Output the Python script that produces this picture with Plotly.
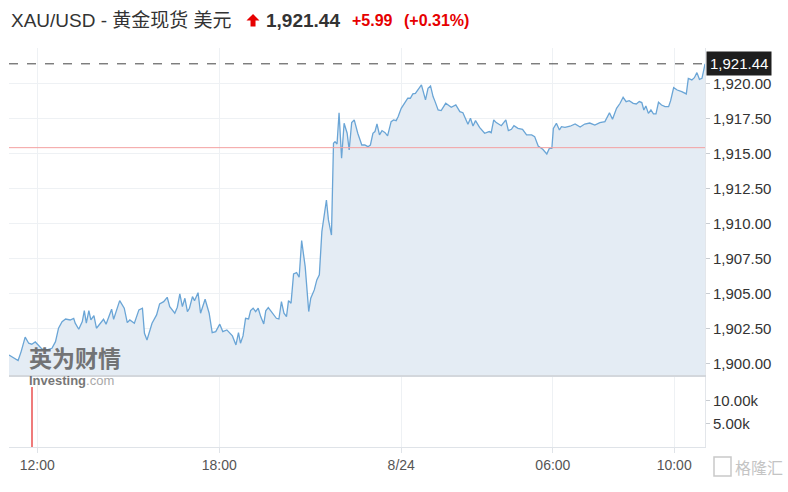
import plotly.graph_objects as go

# ---------------- data ----------------
day1_times = ["11:04","11:13","11:22","11:28","11:36","11:43","11:49","11:56","12:03","12:09",
    "12:19","12:29","12:36","12:42","12:49","12:56","13:05","13:12","13:15","13:22",
    "13:29","13:33","13:37","13:42","13:46","13:52","13:57","14:05","14:11","14:16",
    "14:21","14:27","14:31","14:38","14:43","14:52","14:58","15:03","15:12","15:21",
    "15:28","15:32","15:37","15:47","15:56","16:02","16:10","16:17","16:22","16:32",
    "16:37","16:42","16:47","16:52","16:57","17:01","17:07","17:11","17:18","17:23",
    "17:32","17:40","17:46","17:53","18:01","18:07","18:15","18:26","18:33","18:38",
    "18:42","18:47","18:52","18:58","19:02","19:07","19:12","19:17","19:22","19:28",
    "19:32","19:37","19:45","19:53","19:58","20:03","20:08","20:13","20:17","20:22",
    "20:27","20:33","20:38","20:43","20:50","20:57","21:01","21:08","21:13","21:18",
    "21:23","21:28","21:32","21:36","21:42","21:46","21:49","21:53","21:57","22:02",
    "22:07","22:13","22:17","22:22","22:27","22:34","22:42","22:48","22:54","22:59",
    "23:04","23:08","23:12","23:17","23:22","23:28","23:33","23:40","23:45","23:50",
    "23:54"]
day1_prices = [1900.64,1900.41,1900.24,1900.88,1901.91,1901.48,1901.41,1901.57,1901.29,1901.07,
    1901.00,1901.12,1901.59,1902.55,1903.02,1903.21,1903.14,1903.26,1902.91,1902.48,
    1903.02,1903.81,1902.91,1903.81,1903.14,1903.45,1902.55,1902.91,1903.19,1902.84,
    1903.38,1903.91,1903.19,1903.98,1904.52,1903.98,1902.95,1903.14,1902.91,1903.86,
    1903.98,1902.19,1901.71,1902.91,1903.50,1904.29,1904.45,1904.76,1904.09,1903.62,
    1904.05,1905.00,1904.09,1904.69,1903.74,1903.98,1904.81,1904.52,1905.09,1903.62,
    1904.62,1903.62,1902.24,1902.31,1902.84,1902.31,1902.43,1902.00,1901.36,1902.24,
    1901.48,1902.00,1903.26,1903.21,1903.81,1903.98,1903.74,1903.98,1903.38,1902.86,
    1903.79,1904.02,1903.67,1903.26,1903.21,1904.45,1903.62,1903.38,1904.52,1904.34,
    1906.43,1906.52,1906.19,1908.81,1906.95,1903.74,1904.69,1905.29,1906.00,1906.36,
    1909.45,1910.57,1911.71,1910.29,1909.21,1915.76,1915.88,1915.71,1917.95,1914.69,
    1917.19,1916.48,1915.29,1917.24,1917.43,1916.48,1915.64,1915.64,1915.52,1915.64,
    1916.48,1916.60,1917.14,1916.36,1916.67,1916.52,1916.29,1917.31,1917.43,1917.38,
    1917.67]

day2_times = ["00:00","00:07","00:13","00:18","00:23","00:28","00:33","00:40","00:48","00:53",
    "00:58","01:03","01:07","01:13","01:19","01:28","01:39","01:48","01:56","02:02",
    "02:12","02:17","02:22","02:27","02:35","02:45","02:54","02:58","03:03","03:08",
    "03:18","03:27","03:32","03:38","03:43","03:51","04:00","04:08","04:18","04:24",
    "04:31","04:40","04:48","04:53","04:58",
    "06:01","06:07","06:13","06:17","06:24","06:34","06:44","06:54","07:03","07:13",
    "07:23","07:33","07:43","07:52","07:58","08:06","08:13","08:19","08:25","08:31",
    "08:39","08:45","08:51","08:56","09:00","09:04","09:09","09:14","09:19","09:24",
    "09:29","09:35","09:42","09:49","09:53","09:59","10:06","10:15","10:24","10:28",
    "10:35","10:40","10:45","10:50","10:55","11:00","11:01"]
day2_prices = [1918.26,1918.67,1918.98,1918.98,1919.29,1919.33,1919.62,1919.93,1918.86,1919.69,
    1919.86,1919.10,1918.74,1918.14,1918.10,1918.62,1918.33,1918.50,1918.02,1917.95,
    1917.12,1917.55,1917.00,1917.38,1916.90,1916.48,1916.60,1916.52,1917.43,1917.24,
    1917.02,1917.43,1916.67,1916.76,1917.02,1916.83,1916.76,1916.36,1916.36,1916.24,
    1915.57,1915.33,1915.00,1915.40,1915.40,
    1916.83,1917.19,1916.71,1916.95,1916.90,1916.98,1917.14,1916.93,1917.14,1917.21,
    1917.07,1917.24,1917.31,1917.95,1917.48,1918.26,1918.62,1919.05,1918.74,1918.81,
    1918.62,1918.57,1918.74,1918.67,1918.14,1918.43,1917.90,1918.14,1917.86,1917.86,
    1918.69,1918.50,1918.38,1918.38,1918.81,1919.74,1919.57,1919.45,1919.29,1920.40,
    1920.29,1920.45,1920.81,1920.33,1920.40,1921.24,1921.44]

volume_times = ["2023-08-23 11:50"]
volume_values = [13000]

last_price = 1921.44
prev_close = 1915.45
change = 5.99
change_pct = 0.31

price_ticks = [1900.0, 1902.5, 1905.0, 1907.5, 1910.0, 1912.5, 1915.0, 1917.5, 1920.0]
volume_ticks = [5000, 10000]
volume_ticktext = ["5.00k", "10.00k"]
x_tickvals = ["2023-08-23 12:00", "2023-08-23 18:00", "2023-08-24 00:00",
              "2023-08-24 06:00", "2023-08-24 10:00"]
x_ticktext = ["12:00", "18:00", "8/24", "06:00", "10:00"]

times = ["2023-08-23 " + t for t in day1_times] + ["2023-08-24 " + t for t in day2_times]
prices = day1_prices + day2_prices

# ---------------- figure ----------------
W, H = 788, 492
ML, MR, MT, MB = 9, 83, 48, 45
PW, PH = W - ML - MR, H - MT - MB


def px_x(px):
    return (px - ML) / PW


def px_y(py):
    return (H - MB - py) / PH


FONT = "Liberation Sans, Arial, Noto Sans CJK SC, sans-serif"
GRID = "#eef1f4"

fig = go.Figure()

fig.add_trace(go.Scatter(
    x=times, y=prices, mode="lines",
    line=dict(color="#6aa5d6", width=1.3),
    fill="tozeroy", fillcolor="#e4ecf4",
    xaxis="x2", yaxis="y2", hoverinfo="skip", showlegend=False))

fig.add_trace(go.Bar(
    x=volume_times, y=volume_values, width=[150000],
    marker=dict(color="#ef7b7b", line=dict(width=0)),
    xaxis="x", yaxis="y", showlegend=False, hoverinfo="skip"))

rb = [dict(bounds=[5, 6], pattern="hour")]
xrange = ["2023-08-23 11:04", "2023-08-24 11:01"]

fig.update_layout(
    width=W, height=H,
    margin=dict(l=ML, r=MR, t=MT, b=MB, autoexpand=False),
    paper_bgcolor="white", plot_bgcolor="white",
    font=dict(family=FONT, color="#333"),
    bargap=0,
    xaxis=dict(domain=[0, 1], anchor="y", range=xrange, rangebreaks=rb,
               tickvals=x_tickvals, ticktext=x_ticktext,
               tickfont=dict(size=14, color="#555"),
               ticks="outside", ticklen=5, tickcolor="#dfe3e8",
               showgrid=True, gridcolor=GRID, gridwidth=1,
               showline=True, linecolor="#dfe3e8", linewidth=1,
               zeroline=False, fixedrange=True, automargin=False),
    xaxis2=dict(domain=[0, 1], anchor="y2", matches="x", range=xrange, rangebreaks=rb,
                tickvals=x_tickvals, showticklabels=False, ticks="",
                showgrid=True, gridcolor=GRID, gridwidth=1,
                showline=True, linecolor="#d3d7dc", linewidth=2,
                zeroline=False, automargin=False),
    yaxis=dict(domain=[0, 0.178], anchor="x", side="right", range=[0, 15430],
               tickvals=volume_ticks, ticktext=volume_ticktext,
               tickfont=dict(size=15, color="#333"),
               ticks="outside", ticklen=4, tickcolor="#c8ccd1",
               showgrid=False, zeroline=False, automargin=False,
               showline=True, linecolor="#e3e6ea", linewidth=1),
    yaxis2=dict(domain=[0.1805, 1], anchor="x2", side="right", range=[1899.21, 1922.57],
                tickvals=price_ticks, tickformat=",.2f",
                tickfont=dict(size=15, color="#333"),
                ticks="outside", ticklen=4, tickcolor="#c8ccd1",
                showgrid=True, gridcolor=GRID, gridwidth=1, automargin=False,
                zeroline=False, showline=True, linecolor="#e3e6ea", linewidth=1),
)

# previous close line and last-price dashed line
fig.add_shape(type="line", xref="x2 domain", yref="y2", x0=0, x1=1,
              y0=prev_close, y1=prev_close, line=dict(color="#f4a0a0", width=1))
fig.add_shape(type="line", xref="x2 domain", yref="y2", x0=0, x1=1,
              y0=last_price, y1=last_price, line=dict(color="#444", width=1, dash="dash"))

# last price badge
fig.add_annotation(xref="paper", yref="y2", x=1.0, y=last_price, xanchor="left", yanchor="middle",
                   text=f"{last_price:,.2f}", showarrow=False,
                   font=dict(size=15, color="white", family=FONT),
                   bgcolor="#1e1e1e", borderpad=3, xshift=1)

# title line
ty = px_y(20)
fig.add_annotation(xref="paper", yref="paper", x=px_x(9), y=ty, xanchor="left", yanchor="middle",
                   text="XAU/USD - 黄金现货 美元", showarrow=False,
                   font=dict(size=19, color="#333", family=FONT))
fig.add_annotation(xref="paper", yref="paper", x=px_x(264), y=ty, xanchor="left", yanchor="middle",
                   text=f"<b>{last_price:,.2f}</b>", showarrow=False,
                   font=dict(size=19, color="#333", family=FONT))
fig.add_annotation(xref="paper", yref="paper", x=px_x(350), y=ty, xanchor="left", yanchor="middle",
                   text=f"<b>+{change:.2f}</b>", showarrow=False,
                   font=dict(size=16, color="#e60000", family=FONT))
fig.add_annotation(xref="paper", yref="paper", x=px_x(402), y=ty, xanchor="left", yanchor="middle",
                   text=f"<b>(+{change_pct:.2f}%)</b>", showarrow=False,
                   font=dict(size=16, color="#e60000", family=FONT))

# up arrow icon
pts = [(253, 14), (259.5, 20.5), (255.5, 20.5), (255.5, 26.5), (250.5, 26.5), (250.5, 20.5), (246.5, 20.5)]
path = "M " + " L ".join(f"{px_x(a):.4f},{px_y(b):.4f}" for a, b in pts) + " Z"
fig.add_shape(type="path", xref="paper", yref="paper", path=path,
              fillcolor="#e60000", line=dict(width=0))

# watermark (英为财情 Investing.com)
fig.add_annotation(xref="paper", yref="paper", x=px_x(27), y=px_y(357), xanchor="left", yanchor="middle",
                   text="<b>英为财情</b>", showarrow=False, opacity=0.85,
                   font=dict(size=23, color="#5f5f5f", family="Noto Sans CJK SC"))
fig.add_annotation(xref="paper", yref="paper", x=px_x(27), y=px_y(380), xanchor="left", yanchor="middle",
                   text="<b>Investing</b><span style='color:#9a9a9a'>.com</span>", showarrow=False,
                   opacity=0.85, font=dict(size=13, color="#5f5f5f", family=FONT))

# 格隆汇 watermark bottom-right
fig.add_shape(type="rect", xref="paper", yref="paper",
              x0=px_x(714), x1=px_x(731), y0=px_y(476), y1=px_y(457),
              line=dict(color="#c9c9c9", width=1.5), fillcolor="rgba(0,0,0,0)")
fig.add_annotation(xref="paper", yref="paper", x=px_x(733), y=px_y(467), xanchor="left", yanchor="middle",
                   text="格隆汇", showarrow=False,
                   font=dict(size=16, color="#c4c4c4", family="Noto Sans CJK SC"))

fig.write_html("out.html", config={"displayModeBar": False},
               post_script="document.body.style.margin='0';document.body.style.padding='0';")
